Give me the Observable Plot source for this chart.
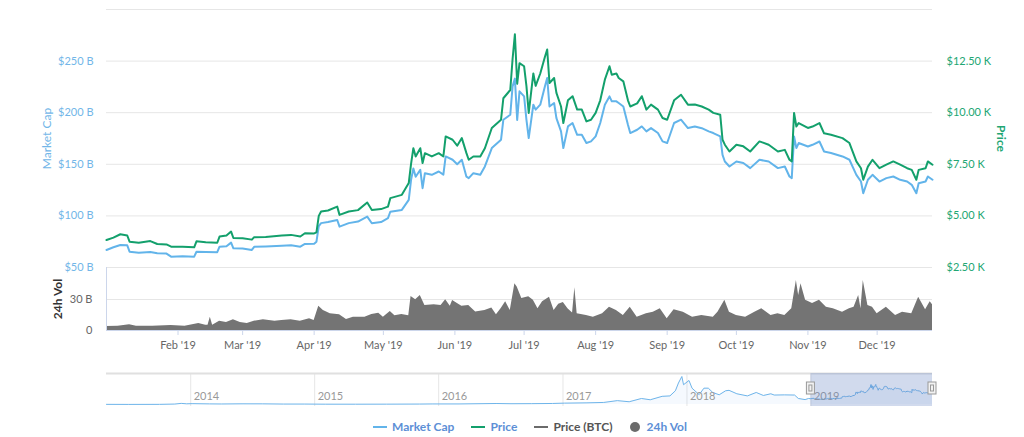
<!DOCTYPE html>
<html>
<head>
<meta charset="utf-8">
<script src="https://cdn.jsdelivr.net/npm/d3@7"></script>
<script src="https://cdn.jsdelivr.net/npm/@observablehq/plot@0.6"></script>
<style>
  body { margin: 0; background: #fff; font-family: Lato, "Open Sans", sans-serif; }
  #wrap { position: relative; width: 1024px; height: 437px; overflow: hidden; background: #fff; }
  #wrap svg { position: absolute; left: 0; top: 0; background: transparent; max-width: none; }
  #legend { position: absolute; top: 419px; left: 373px; display: flex; align-items: center; font-size: 12px; font-weight: bold; white-space: nowrap; }
  .item { display: flex; align-items: center; margin-right: 17px; color: #5d8fd6; }
  .sym-line { display: inline-block; width: 14px; height: 2px; margin-right: 5px; }
  .sym-dot { display: inline-block; width: 10px; height: 10px; border-radius: 50%; margin-right: 7px; }
</style>
</head>
<body>
<div id="wrap"><div id="legend"></div></div>
<script>
// ---- Main series (2019) ----
const dates = ["2019-01-01","2019-01-04","2019-01-07","2019-01-10","2019-01-11","2019-01-15","2019-01-20","2019-01-23","2019-01-27","2019-01-29",
"2019-02-03","2019-02-08","2019-02-09","2019-02-13","2019-02-18","2019-02-19","2019-02-22","2019-02-24","2019-02-25",
"2019-03-01","2019-03-05","2019-03-06","2019-03-11","2019-03-18","2019-03-22","2019-03-26","2019-03-28",
"2019-04-01","2019-04-02","2019-04-03","2019-04-04","2019-04-07","2019-04-11","2019-04-12","2019-04-16","2019-04-20","2019-04-24","2019-04-26","2019-04-30",
"2019-05-03","2019-05-04","2019-05-09","2019-05-12","2019-05-13","2019-05-14","2019-05-15","2019-05-17","2019-05-18","2019-05-19","2019-05-22","2019-05-25","2019-05-27","2019-05-28","2019-05-31",
"2019-06-02","2019-06-04","2019-06-06","2019-06-07","2019-06-09","2019-06-12","2019-06-14","2019-06-17","2019-06-21","2019-06-22","2019-06-25","2019-06-26","2019-06-27","2019-06-28","2019-06-29",
"2019-07-01","2019-07-02","2019-07-03","2019-07-05","2019-07-06","2019-07-08","2019-07-10","2019-07-11","2019-07-12","2019-07-14","2019-07-15","2019-07-17","2019-07-18","2019-07-20","2019-07-22","2019-07-24","2019-07-26","2019-07-28","2019-07-30",
"2019-08-01","2019-08-03","2019-08-05","2019-08-07","2019-08-08","2019-08-10","2019-08-11","2019-08-13","2019-08-15","2019-08-16","2019-08-19","2019-08-21","2019-08-23","2019-08-25","2019-08-28","2019-08-30",
"2019-09-01","2019-09-04","2019-09-07","2019-09-10","2019-09-13","2019-09-16","2019-09-19","2019-09-21","2019-09-24","2019-09-25","2019-09-26","2019-09-28",
"2019-10-01","2019-10-04","2019-10-07","2019-10-11","2019-10-15","2019-10-19","2019-10-22","2019-10-24","2019-10-25","2019-10-26","2019-10-27","2019-10-28",
"2019-11-01","2019-11-03","2019-11-06","2019-11-08","2019-11-11","2019-11-16","2019-11-19","2019-11-22","2019-11-24","2019-11-25","2019-11-27","2019-11-29",
"2019-12-02","2019-12-05","2019-12-08","2019-12-11","2019-12-14","2019-12-16","2019-12-18","2019-12-19","2019-12-22","2019-12-23","2019-12-25"];

// Price in thousands of USD
const price = [3.83,3.95,4.11,4.05,3.75,3.70,3.78,3.64,3.62,3.51,
3.50,3.48,3.77,3.72,3.70,4.00,4.05,4.24,3.93,
3.92,3.85,3.97,3.98,4.05,4.08,4.00,4.16,
4.15,4.20,5.00,5.21,5.26,5.45,5.05,5.21,5.28,5.65,5.29,5.33,
5.45,5.86,6.02,6.59,7.52,8.28,7.88,8.28,7.56,8.04,7.88,8.04,7.88,8.85,8.69,
8.40,8.77,8.04,7.72,7.88,7.88,8.28,9.26,9.66,10.70,11.10,12.60,13.80,11.40,12.40,
12.25,11.30,9.99,11.90,11.30,11.90,12.70,13.06,11.44,11.68,10.96,10.30,9.50,10.60,10.80,10.15,10.15,9.58,9.66,
9.99,10.60,11.60,12.25,11.84,11.90,11.68,11.52,10.60,10.30,10.45,10.80,10.15,10.39,10.15,9.74,
9.66,10.60,10.87,10.39,10.40,10.30,10.15,9.99,9.90,8.69,8.45,8.12,
8.45,8.37,8.12,8.61,8.45,8.12,8.20,7.72,7.64,9.99,9.33,9.50,
9.26,9.33,9.50,9.00,8.93,8.77,8.53,7.64,7.31,6.75,7.39,7.72,
7.31,7.48,7.64,7.48,7.31,7.23,6.75,7.23,7.31,7.64,7.48];

// Market cap in billions of USD
const marketCap = [67.0,69.6,71.8,71.5,65.3,64.4,65.0,63.8,63.5,60.5,
60.8,60.5,65.3,65.0,64.8,70.2,70.5,74.1,68.6,
68.5,67.0,70.0,70.3,71.0,71.5,70.2,72.8,
73.0,75.0,90.0,93.0,94.0,96.0,89.6,93.0,94.5,99.3,92.9,94.0,
97.8,104.0,105.8,115.5,135.0,146.0,138.0,144.7,126.9,141.4,139.8,143.0,140.0,157.6,154.4,
150.0,154.4,138.0,136.6,141.4,139.8,147.9,165.7,173.8,193.2,198.0,225.5,233.0,193.0,220.7,
215.8,193.2,175.4,207.8,203.0,207.8,225.5,233.6,206.0,209.4,194.8,181.9,165.7,186.7,190.0,178.6,178.6,170.6,172.2,
177.0,190.0,207.8,215.8,211.0,211.0,209.4,206.0,188.3,180.3,183.5,186.7,181.9,185.1,180.3,172.2,
170.6,190.0,193.2,185.1,186.7,185.0,181.9,180.3,177.0,159.2,152.7,147.9,
152.7,151.2,146.3,154.4,152.7,146.3,147.9,138.2,136.6,177.0,165.7,170.6,
167.3,168.9,172.1,162.4,160.9,157.6,154.4,139.8,133.3,122.0,135.0,139.8,
133.3,136.6,138.2,135.0,133.3,130.1,122.0,131.7,133.3,138.2,135.0];

// 24h volume in billions of USD
const volDates = ["2019-01-01","2019-01-06","2019-01-11","2019-01-14","2019-01-21","2019-01-29","2019-02-04","2019-02-10","2019-02-13","2019-02-14","2019-02-15","2019-02-16","2019-02-19","2019-02-22","2019-02-25","2019-02-28",
"2019-03-03","2019-03-06","2019-03-10","2019-03-15","2019-03-18","2019-03-22","2019-03-26","2019-03-30",
"2019-04-01","2019-04-03","2019-04-05","2019-04-08","2019-04-12","2019-04-15","2019-04-18","2019-04-23","2019-04-26","2019-04-29",
"2019-05-01","2019-05-04","2019-05-06","2019-05-09","2019-05-12","2019-05-13","2019-05-15","2019-05-17","2019-05-19","2019-05-23","2019-05-26","2019-05-28","2019-05-30","2019-05-31",
"2019-06-04","2019-06-07","2019-06-10","2019-06-14","2019-06-17","2019-06-19","2019-06-21","2019-06-23","2019-06-25","2019-06-27","2019-06-28","2019-06-30",
"2019-07-03","2019-07-05","2019-07-07","2019-07-09","2019-07-12","2019-07-14","2019-07-16","2019-07-18","2019-07-20","2019-07-22","2019-07-23","2019-07-24","2019-07-28","2019-07-31",
"2019-08-04","2019-08-07","2019-08-10","2019-08-13","2019-08-16","2019-08-19","2019-08-23","2019-08-26","2019-08-29",
"2019-09-01","2019-09-04","2019-09-08","2019-09-12","2019-09-16","2019-09-21","2019-09-23","2019-09-26","2019-09-28",
"2019-10-01","2019-10-05","2019-10-09","2019-10-12","2019-10-16","2019-10-19","2019-10-22","2019-10-25","2019-10-27","2019-10-28","2019-10-29","2019-10-31",
"2019-11-03","2019-11-06","2019-11-09","2019-11-12","2019-11-16","2019-11-19","2019-11-21","2019-11-23","2019-11-24","2019-11-25","2019-11-27","2019-11-29",
"2019-12-01","2019-12-05","2019-12-09","2019-12-12","2019-12-16","2019-12-19","2019-12-22","2019-12-24","2019-12-25"];
const volume = [3.9,4.2,5.5,4.2,4.0,4.9,4.0,6.8,5.0,5.0,12.9,5.0,9.0,7.7,10.3,7.7,
6.8,9.0,10.3,9.0,9.7,10.3,9.0,11.3,
9.7,23.5,19.4,16.1,15.2,10.6,12.9,12.9,15.5,16.8,
12.9,18.4,14.2,15.5,14.2,32.9,29.7,33.9,24.2,24.9,24.2,29.7,23.5,29.0,
23.5,24.2,17.8,19.4,21.7,15.2,21.0,27.9,19.4,45.2,42.0,31.0,
32.6,29.4,21.0,27.9,32.3,19.4,25.5,27.0,21.0,17.0,41.3,16.1,14.5,12.9,
16.1,22.6,19.4,14.5,22.6,12.9,16.1,17.7,21.0,
11.3,20.0,17.7,12.9,14.5,12.9,17.7,29.4,17.7,
14.5,12.9,17.7,21.0,14.5,16.1,14.5,21.0,48.4,33.9,45.2,29.4,
26.1,29.4,22.6,21.0,17.7,21.0,22.6,33.9,21.0,48.4,24.2,22.6,
16.1,22.6,14.5,17.7,16.1,32.3,20.0,27.9,25.0];

// Navigator history (market cap, billions USD) before 2019
const navDates = ["2013-04-28","2013-07-01","2013-10-01","2013-11-15","2013-12-04","2013-12-20","2014-01-05","2014-02-25","2014-04-01","2014-06-01","2014-08-01","2014-10-01","2014-12-01",
"2015-02-01","2015-05-01","2015-08-01","2015-11-05","2015-12-15","2016-03-01","2016-06-18","2016-08-01","2016-10-01","2016-12-01",
"2017-01-05","2017-03-10","2017-05-01","2017-06-10","2017-07-15","2017-08-20","2017-09-15","2017-10-20","2017-11-12","2017-11-28","2017-12-07","2017-12-17","2017-12-22",
"2018-01-07","2018-01-16","2018-02-06","2018-02-20","2018-03-05","2018-03-18","2018-04-06","2018-04-25","2018-05-05","2018-05-28","2018-06-28","2018-07-24","2018-08-14","2018-09-05","2018-09-15","2018-10-15","2018-11-14","2018-11-25","2018-12-15","2018-12-25"];
const navCap = [1.5,1.0,1.5,5,13,8,10,7,6,8,7.5,5,5,
3.5,3.3,4,5,6.5,6.5,11.5,9,10,12,
16,19,24,45,32,70,55,95,100,160,250,326,230,
280,190,115,190,190,140,113,160,165,125,100,140,105,125,110,112,110,70,57,70];

const monthTicks = ["2019-02-01","2019-03-01","2019-04-01","2019-05-01","2019-06-01","2019-07-01","2019-08-01","2019-09-01","2019-10-01","2019-11-01","2019-12-01"];
const yearTicks = ["2014-01-01","2015-01-01","2016-01-01","2017-01-01","2018-01-01","2019-01-01"];
const capTicks = [50, 100, 150, 200, 250];
const capGrid = [50, 100, 150, 200, 250, 300];
const priceTicks = [2.5, 5, 7.5, 10, 12.5];
const volTicks = [0, 30];
const legendItems = [
  {name: "Market Cap", kind: "line", color: "#62b4ea", text: "#5d8fd6"},
  {name: "Price", kind: "line", color: "#13a06c", text: "#5d8fd6"},
  {name: "Price (BTC)", kind: "line", color: "#6b6b6b", text: "#555"},
  {name: "24h Vol", kind: "dot", color: "#6b6b6b", text: "#5d8fd6"}
];

// ---- tables ----
const rows = dates.map((d, i) => ({date: new Date(d), price: price[i], cap: marketCap[i]}));
const volRows = volDates.map((d, i) => ({date: new Date(d), vol: volume[i]}));
const navRows = navDates.map((d, i) => ({date: new Date(d), cap: navCap[i]})).concat(rows.map(r => ({date: r.date, cap: r.cap})));
const xDomain = [rows[0].date, rows[rows.length - 1].date];
const navDomain = [navRows[0].date, xDomain[1]];
const navMax = 361;

const BLUE = "#62b4ea", GREEN = "#13a06c", BLUE_TXT = "#72b6e8", GREEN_TXT = "#22a673";
const common = {
  width: 1024, height: 437, marginLeft: 106, marginRight: 92,
  style: {background: "transparent", fontFamily: "Lato, 'Open Sans', sans-serif", fontSize: "11px", overflow: "visible"}
};

const wrap = document.getElementById("wrap");

// Market cap layer
wrap.appendChild(Plot.plot({
  ...common, marginTop: 9, marginBottom: 170,
  x: {type: "utc", domain: xDomain, axis: null},
  y: {domain: [50, 300]},
  marks: [
    Plot.gridY(capGrid, {stroke: "#e6e6e6", strokeOpacity: 1}),
    Plot.axisY(capTicks, {anchor: "left", tickSize: 0, tickPadding: 13, tickFormat: d => `$${d} B`, fill: BLUE_TXT, label: null}),
    Plot.line(rows, {x: "date", y: "cap", stroke: BLUE, strokeWidth: 2}),
    Plot.text(["Market Cap"], {frameAnchor: "left", textAnchor: "middle", dx: -59, rotate: -90, fill: BLUE_TXT, fontSize: 12})
  ]
}));

// Price layer
wrap.appendChild(Plot.plot({
  ...common, marginTop: 9, marginBottom: 170,
  x: {type: "utc", domain: xDomain, axis: null},
  y: {domain: [2.5, 15]},
  marks: [
    Plot.axisY(priceTicks, {anchor: "right", tickSize: 0, tickPadding: 14, tickFormat: d => `$${d.toFixed(2)} K`, fill: GREEN_TXT, label: null}),
    Plot.line(rows, {x: "date", y: "price", stroke: GREEN, strokeWidth: 2}),
    Plot.text(["Price"], {frameAnchor: "right", textAnchor: "middle", dx: 68, rotate: 90, fill: GREEN_TXT, fontSize: 12, fontWeight: "bold"})
  ]
}));

// Volume layer
wrap.appendChild(Plot.plot({
  ...common, marginTop: 267, marginBottom: 107,
  x: {type: "utc", domain: xDomain},
  y: {domain: [0, 61]},
  marks: [
    Plot.gridY([30], {stroke: "#e6e6e6", strokeOpacity: 1}),
    Plot.areaY(volRows, {x: "date", y: "vol", fill: "#747474"}),
    Plot.ruleY([0], {stroke: "#ccd6eb"}),
    Plot.ruleX([xDomain[0]], {stroke: "#ccd6eb"}),
    Plot.axisY(volTicks, {anchor: "left", tickSize: 0, tickPadding: 14, tickFormat: d => d === 0 ? "0" : `${d} B`, fill: "#666", label: null}),
    Plot.axisX(monthTicks.map(d => new Date(d)), {anchor: "bottom", tickSize: 5, tickPadding: 6, stroke: "#ccd6eb", strokeOpacity: 1, fill: "#666", tickFormat: d3.utcFormat("%b '%y"), label: null}),
    Plot.text(["24h Vol"], {frameAnchor: "left", textAnchor: "middle", dx: -48, rotate: -90, fill: "#333", fontSize: 12, fontWeight: "bold"})
  ]
}));

// Navigator layer
const years = yearTicks.map(d => new Date(d));
const sel = [{start: xDomain[0], end: xDomain[1]}];
const handles = [xDomain[0], xDomain[1]];
wrap.appendChild(Plot.plot({
  ...common, marginTop: 373, marginBottom: 33,
  x: {type: "utc", domain: navDomain, axis: null},
  y: {domain: [0, navMax], axis: null},
  marks: [
    Plot.ruleX(years, {stroke: "#e6e6e6", insetBottom: -2}),
    Plot.areaY(navRows, {x: "date", y: "cap", fill: "#7cb5ec", fillOpacity: 0.08}),
    Plot.line(navRows, {x: "date", y: "cap", stroke: "#6fb5ea", strokeWidth: 1}),
    Plot.text(years, {x: d => d, text: d => String(d.getUTCFullYear()), frameAnchor: "bottom", dx: 3, dy: -5, textAnchor: "start", fill: "#999", fontSize: 11}),
    Plot.ruleY([navMax], {stroke: "#e0e0e0", strokeWidth: 2}),
    Plot.rect(sel, {x1: d => d.start, x2: d => d.end, y1: () => 0, y2: () => navMax, insetBottom: -2, fill: "rgb(102,133,194)", fillOpacity: 0.3}),
    Plot.rect(handles, {x1: d => d, x2: d => d, y1: () => 0, y2: () => navMax, insetLeft: -4, insetRight: -4, insetTop: 9, insetBottom: 10, fill: "#f2f2f2", stroke: "#999"}),
    Plot.rect(handles, {x1: d => d, x2: d => d, y1: () => 0, y2: () => navMax, insetLeft: -1.5, insetRight: -1.5, insetTop: 12, insetBottom: 13, fill: "none", stroke: "#999"})
  ]
}));

// Legend
const legend = document.getElementById("legend");
wrap.appendChild(legend);
for (const it of legendItems) {
  const el = document.createElement("div");
  el.className = "item";
  el.style.color = it.text;
  const sym = document.createElement("span");
  sym.className = it.kind === "line" ? "sym-line" : "sym-dot";
  sym.style.background = it.color;
  el.appendChild(sym);
  el.appendChild(document.createTextNode(it.name));
  legend.appendChild(el);
}
</script>
</body>
</html>
